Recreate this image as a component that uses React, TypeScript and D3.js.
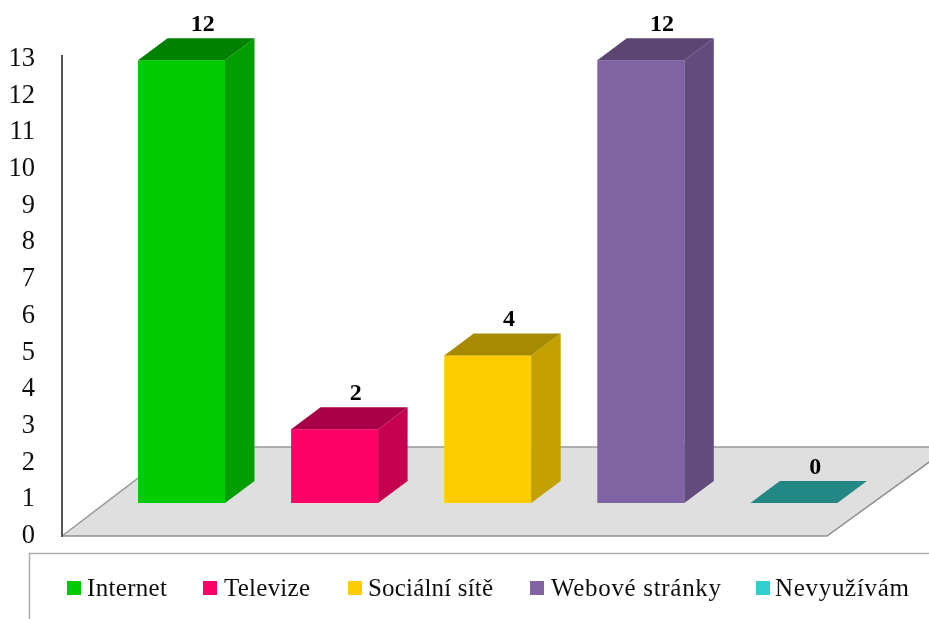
import React from "react";
import * as d3 from "d3";

const categories = ["Internet", "Televize", "Sociální sítě", "Webové stránky", "Nevyužívám"];
const values = [12, 2, 4, 12, 0];
const frontColors = ["#00CC00", "#FF0066", "#FFCC00", "#8064A2", "#31CDCD"];
const sideColors = ["#009E00", "#C4004F", "#C4A000", "#624C7D", "#268F8F"];
const topColors = ["#008200", "#A80046", "#A88A00", "#5A4573", "#218785"];
const yTicks = d3.range(0, 14);
const legendX = [67, 203, 348, 530, 756];
const legendTextX = [87, 224, 368, 551, 775];
const legendTextW = [80, 86, 125, 170, 134];

const W = 929, H = 619;
const unit = 36.9;
const axisY = d3.scaleLinear().domain([0, 13]).range([534, 57]);
const barY = d3.scaleLinear().domain([0, 12]).range([503, 503 - 12 * unit]);
const x = d3.scaleBand<string>().domain(categories).range([138, 138 + 153.1 * 4 + 87]).paddingInner(1 - 87 / 153.1).paddingOuter(0);
const serif = "'Liberation Serif', 'Times New Roman', serif";
const poly = (pts: number[][]) => pts.map((p) => p.join(",")).join(" ");

export default function App() {
  const dx = 29.5, dy = 22;
  return (
    <svg width={W} height={H} style={{ position: "fixed", left: 0, top: 0, background: "#fff" }} fontFamily={serif}>
      <defs>
        <filter id="soft" x="0" y="0" width="100%" height="100%">
          <feGaussianBlur stdDeviation="0.45" />
        </filter>
      </defs>
      <g filter="url(#soft)">
        <polygon points={poly([[62, 536], [827, 536], [950, 447], [179, 447]])} fill="#DFDFDF" />
        <path d="M62,536 L179,447 L950,447" fill="none" stroke="#9A9A9A" strokeWidth={1.5} />
        <path d="M62,536 L827,536 L950,447" fill="none" stroke="#8F8F8F" strokeWidth={1.5} />
        <line x1={62} y1={55} x2={62} y2={537} stroke="#555" strokeWidth={2} />
        {yTicks.map((t) => (
          <text key={t} x={35} y={axisY(t) + 9} textAnchor="end" fontSize={26.5} fill="#111">{t}</text>
        ))}
        {categories.map((c, i) => {
          const x0 = x(c) as number;
          const x1 = x0 + x.bandwidth();
          const y0 = barY(0);
          const y1 = barY(values[i]);
          const cx = (x0 + x1) / 2 + dx / 2 + 6.5;
          return (
            <g key={c}>
              {values[i] > 0 && <rect x={x0} y={y1} width={x1 - x0} height={y0 - y1} fill={frontColors[i]} />}
              {values[i] > 0 && <polygon points={poly([[x1, y1], [x1 + dx, y1 - dy], [x1 + dx, y0 - dy], [x1, y0]])} fill={sideColors[i]} />}
              <polygon points={poly([[x0, y1], [x0 + dx, y1 - dy], [x1 + dx, y1 - dy], [x1, y1]])} fill={topColors[i]} />
              <text x={cx} y={y1 - dy - 7} textAnchor="middle" fontSize={24} fontWeight="bold" fill="#000">{values[i]}</text>
            </g>
          );
        })}
        <path d="M29.5,619 L29.5,553.5 L929,553.5" fill="none" stroke="#ABABAB" strokeWidth={1.5} />
        {categories.map((c, i) => (
          <g key={c}>
            <rect x={legendX[i]} y={581} width={14} height={14} fill={frontColors[i]} />
            <text x={legendTextX[i]} y={596} fontSize={25} textLength={legendTextW[i]} lengthAdjust="spacing" fill="#111">{c}</text>
          </g>
        ))}
      </g>
    </svg>
  );
}
